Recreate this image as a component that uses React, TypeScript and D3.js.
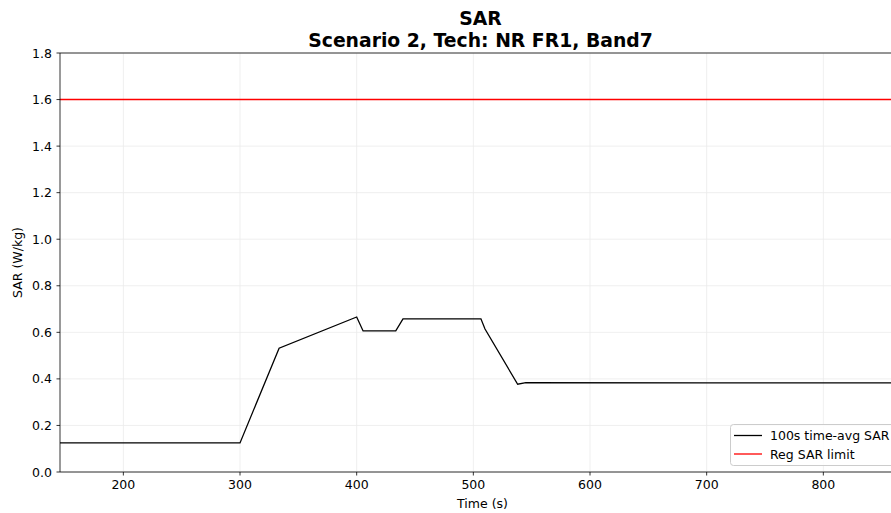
import React from "react";
import * as d3 from "d3";

const timeS = [145.7, 300, 333.5, 400, 405.5, 433.5, 439.7, 506.5, 510, 538, 545, 700, 870];
const sarAvg = [0.125, 0.125, 0.532, 0.666, 0.606, 0.606, 0.658, 0.658, 0.614, 0.377, 0.384, 0.383, 0.383];
const sarLimit = 1.6;
const xTicks = [200, 300, 400, 500, 600, 700, 800];
const yTicks = [0, 0.2, 0.4, 0.6, 0.8, 1.0, 1.2, 1.4, 1.6, 1.8];
const legendLabels = ["100s time-avg SAR", "Reg SAR limit"];
const legendColors = ["#000000", "#ff0000"];

const W = 891, H = 513;
const L = 60, R = 905, T = 53, B = 472;
const FONT = "DejaVu Sans, sans-serif";

export default function App() {
  const x = d3.scaleLinear().domain([145.7, 870]).range([L, R]);
  const y = d3.scaleLinear().domain([0, 1.8]).range([B, T]);
  const line = d3.line<number>().x((_, i) => x(timeS[i])).y((d) => y(d));
  const data = sarAvg;
  return (
    <svg width={W} height={H} style={{ position: "absolute", left: 0, top: 0, fontFamily: FONT }}>
      <rect x={0} y={0} width={W} height={H} fill="#fff" />
      <defs>
        <clipPath id="plot"><rect x={L} y={T} width={R - L} height={B - T} /></clipPath>
      </defs>
      {xTicks.map((t) => (
        <line key={"gx" + t} x1={x(t)} x2={x(t)} y1={T} y2={B} stroke="#ebebeb" strokeWidth={0.8} />
      ))}
      {yTicks.filter((t) => t !== sarLimit).map((t) => (
        <line key={"gy" + t} x1={L} x2={R} y1={y(t)} y2={y(t)} stroke="#ebebeb" strokeWidth={0.8} />
      ))}
      <g clipPath="url(#plot)">
        <path d={line(data) || ""} fill="none" stroke="#000" strokeWidth={1.3} />
      </g>
      <line x1={L} x2={R} y1={y(sarLimit)} y2={y(sarLimit)} stroke="#ff0000" strokeWidth={1.4} />
      <line x1={L} x2={L} y1={T} y2={B} stroke="#000" strokeWidth={0.8} />
      <line x1={L} x2={R} y1={B} y2={B} stroke="#000" strokeWidth={0.8} />
      <line x1={L} x2={R} y1={T} y2={T} stroke="#000" strokeWidth={0.8} />
      <line x1={R} x2={R} y1={T} y2={B} stroke="#000" strokeWidth={0.8} />
      {xTicks.map((t) => (
        <g key={"xt" + t}>
          <line x1={x(t)} x2={x(t)} y1={B} y2={B + 3.5} stroke="#000" strokeWidth={0.8} />
          <text x={x(t)} y={B + 17} fontSize={12.5} textAnchor="middle" fill="#000">{t}</text>
        </g>
      ))}
      {yTicks.map((t) => (
        <g key={"yt" + t}>
          <line x1={L - 3.5} x2={L} y1={y(t)} y2={y(t)} stroke="#000" strokeWidth={0.8} />
          <text x={L - 8} y={y(t) + 4.5} fontSize={12.5} textAnchor="end" fill="#000">{t.toFixed(1)}</text>
        </g>
      ))}
      <text x={(L + R) / 2 - 2} y={25} fontSize={18.8} fontWeight="bold" textAnchor="middle">SAR</text>
      <text x={(L + R) / 2 - 2} y={47} fontSize={18.8} fontWeight="bold" textAnchor="middle">Scenario 2, Tech: NR FR1, Band7</text>
      <text x={(L + R) / 2} y={508} fontSize={12.5} textAnchor="middle">Time (s)</text>
      <text transform={`translate(22, ${(T + B) / 2}) rotate(-90)`} fontSize={12.5} textAnchor="middle">SAR (W/kg)</text>
      <g>
        <rect x={730.5} y={424.5} width={180} height={41} rx={3} fill="#fff" fillOpacity={0.8} stroke="#cccccc" strokeWidth={1} />
        {legendLabels.map((lab, i) => (
          <g key={lab}>
            <line x1={734} x2={762} y1={435.5 + i * 18.5} y2={435.5 + i * 18.5} stroke={legendColors[i]} strokeWidth={1.3} />
            <text x={770} y={440 + i * 18.5} fontSize={12.5} fill="#000">{lab}</text>
          </g>
        ))}
      </g>
    </svg>
  );
}
